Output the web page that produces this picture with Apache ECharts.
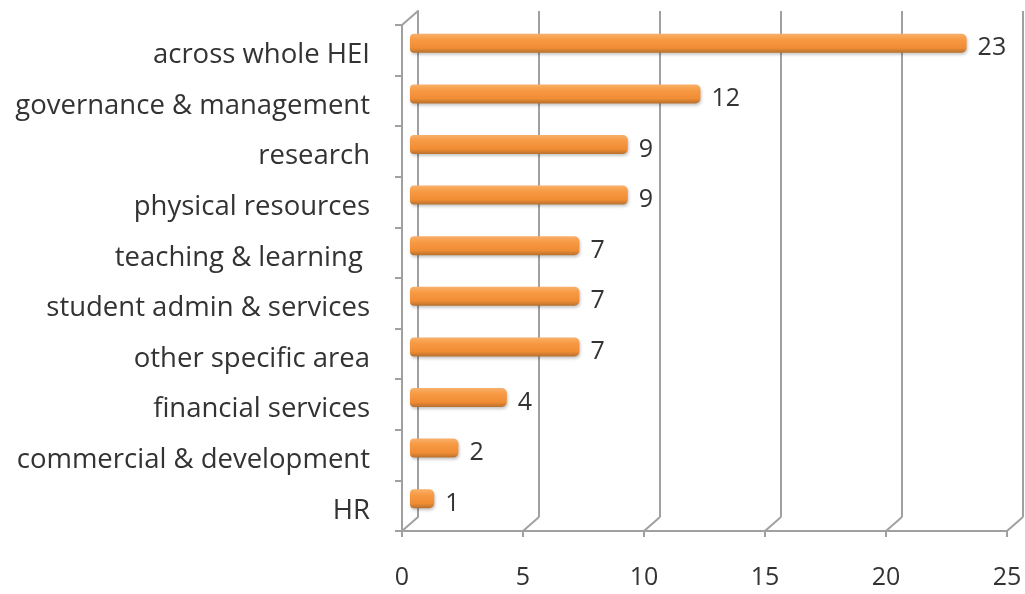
<!DOCTYPE html>
<html>
<head>
<meta charset="utf-8">
<script src="https://cdn.jsdelivr.net/npm/echarts@6/dist/echarts.min.js"></script>
<style>
html,body{margin:0;padding:0;background:#fff;}
#chart{width:1025px;height:594px;}
</style>
</head>
<body>
<div id="chart"></div>
<script>
const categories = ['across whole HEI','governance & management','research','physical resources','teaching & learning ','student admin & services','other specific area','financial services','commercial & development','HR'];
const values = [23,12,9,9,7,7,7,4,2,1];
const xTicks = [0,5,10,15,20,25];

const FONT = 'Open Sans';
const TXT = '#333333';
const LINE = '#a0a0a0';

const chart = echarts.init(document.getElementById('chart'));
const option = {
  animation: false,
  backgroundColor: '#ffffff',
  grid: [
    {left: 402, top: 25, width: 605, height: 506},   // front
    {left: 418, top: 11, width: 605, height: 506},   // back wall
    {left: 410, top: 18, width: 605, height: 506}    // bars (mid depth)
  ],
  xAxis: [
    {gridIndex: 0, type: 'value', min: 0, max: 25, interval: 5,
     axisLine: {show: true, lineStyle: {color: LINE, width: 2}},
     axisTick: {show: true, length: 6, lineStyle: {color: LINE, width: 2}},
     splitLine: {show: false},
     axisLabel: {margin: 34, fontFamily: FONT, fontSize: 25, color: TXT}},
    {gridIndex: 1, type: 'value', min: 0, max: 25, interval: 5,
     axisLine: {show: false}, axisTick: {show: false}, axisLabel: {show: false},
     splitLine: {show: true, lineStyle: {color: LINE, width: 2}}},
    {gridIndex: 2, type: 'value', min: 0, max: 25, interval: 5, show: false}
  ],
  yAxis: [
    {gridIndex: 0, type: 'category', data: categories, inverse: true,
     axisLine: {show: true, lineStyle: {color: LINE, width: 2}},
     axisTick: {show: true, length: 7, lineStyle: {color: LINE, width: 2}},
     axisLabel: {margin: 32, fontFamily: FONT, fontSize: 27.5, color: TXT,
       verticalAlign: 'top', lineHeight: 10}},
    {gridIndex: 1, type: 'category', data: categories, inverse: true,
     axisLine: {show: true, lineStyle: {color: LINE, width: 2}},
     axisTick: {show: false}, axisLabel: {show: false}},
    {gridIndex: 2, type: 'category', data: categories, inverse: true, show: false}
  ],
  series: [
    {
      type: 'custom', xAxisIndex: 0, yAxisIndex: 0, silent: true,
      data: xTicks,
      renderItem: function (params, api) {
        const cs = params.coordSys;
        const v = api.value(0);
        const x = api.coord([v, 0])[0];
        const bottom = cs.y + cs.height;
        const children = [{
          type: 'line',
          shape: {x1: x, y1: bottom, x2: x + 16, y2: bottom - 14},
          style: {stroke: LINE, lineWidth: 2}
        }];
        if (params.dataIndex === 0) {
          children.push({
            type: 'line',
            shape: {x1: cs.x, y1: cs.y, x2: cs.x + 16, y2: cs.y - 14},
            style: {stroke: LINE, lineWidth: 2}
          });
        }
        return {type: 'group', children: children};
      }
    },
    {
      type: 'bar', xAxisIndex: 2, yAxisIndex: 2,
      data: values, barWidth: 19,
      itemStyle: {
        borderRadius: [4, 5, 5, 4],
        color: new echarts.graphic.LinearGradient(0, 0, 0, 1, [
          {offset: 0, color: '#f9b06a'},
          {offset: 0.3, color: '#f79a44'},
          {offset: 0.75, color: '#f08c34'},
          {offset: 1, color: '#b7702e'}
        ]),
        shadowColor: 'rgba(0,0,0,0.22)', shadowBlur: 3, shadowOffsetX: 1, shadowOffsetY: 2
      },
      label: {show: true, position: 'right', distance: 11, offset: [0, 5],
        fontFamily: FONT, fontSize: 25, color: TXT}
    }
  ]
};
chart.setOption(option);
</script>
</body>
</html>
